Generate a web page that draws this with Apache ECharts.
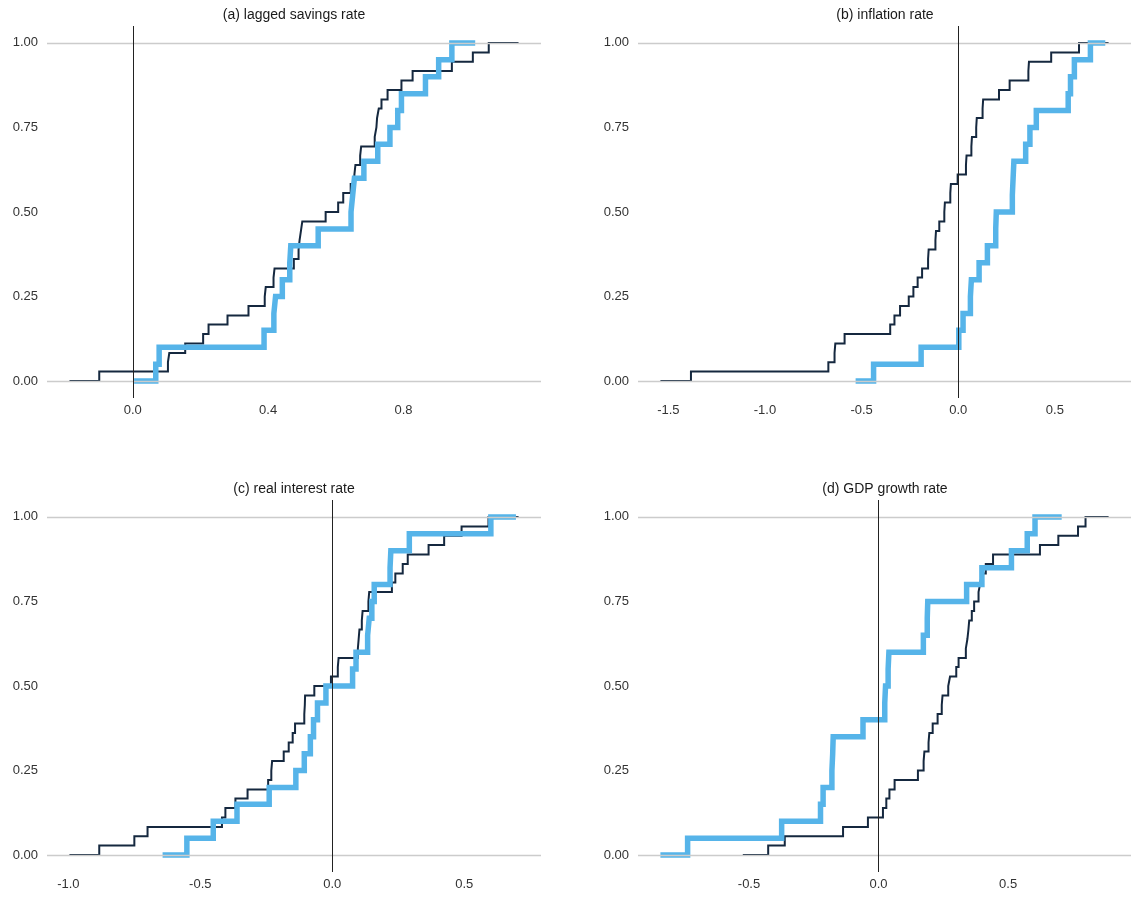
<!DOCTYPE html>
<html>
<head>
<meta charset="utf-8">
<script src="https://cdn.jsdelivr.net/npm/echarts@6/dist/echarts.min.js"></script>
<style>
html,body{margin:0;padding:0;background:#fff;}
#chart{width:1131px;height:900px;}
</style>
</head>
<body>
<div id="chart"></div>
<script>
// ---- Data (step jumps: x position, ECDF level after the jump) ----
const panelTitles = ['(a) lagged savings rate', '(b) inflation rate', '(c) real interest rate', '(d) GDP growth rate'];
const yTickValues = [0, 0.25, 0.5, 0.75, 1];
const xTicksA = [0.0, 0.4, 0.8];
const xTicksB = [-1.5, -1.0, -0.5, 0.0, 0.5];
const xTicksC = [-1.0, -0.5, 0.0, 0.5];
const xTicksD = [-0.5, 0.0, 0.5];

// (a) lagged savings rate
const savingsDarkX = [-0.187,-0.099,0.104,0.108,0.155,0.208,0.224,0.280,0.342,0.390,0.393,0.416,0.419,0.476,0.490,0.493,0.497,0.501,0.570,0.607,0.622,0.644,0.655,0.658,0.672,0.675,0.715,0.720,0.722,0.727,0.735,0.753,0.794,0.827,0.943,1.005,1.052,1.140];
const savingsDarkY = [0,0.028,0.056,0.083,0.111,0.139,0.167,0.194,0.222,0.250,0.278,0.306,0.333,0.361,0.389,0.417,0.444,0.472,0.500,0.528,0.556,0.583,0.611,0.639,0.667,0.694,0.722,0.750,0.778,0.806,0.833,0.861,0.889,0.917,0.944,0.972,1,1];
const savingsBlueX = [0.004,0.068,0.078,0.388,0.417,0.422,0.442,0.464,0.467,0.548,0.645,0.650,0.655,0.683,0.724,0.760,0.783,0.794,0.865,0.904,0.943,1.012];
const savingsBlueY = [0,0.05,0.10,0.15,0.20,0.25,0.30,0.35,0.40,0.45,0.50,0.55,0.60,0.65,0.70,0.75,0.80,0.85,0.90,0.95,1,1];

// (b) inflation rate
const inflationDarkX = [-1.541,-1.383,-0.672,-0.640,-0.636,-0.588,-0.352,-0.330,-0.301,-0.256,-0.232,-0.210,-0.187,-0.156,-0.153,-0.118,-0.115,-0.098,-0.072,-0.069,-0.041,-0.038,-0.003,0.040,0.043,0.068,0.071,0.093,0.096,0.126,0.129,0.211,0.266,0.363,0.366,0.481,0.625,0.778];
const inflationDarkY = [0,0.028,0.056,0.083,0.111,0.139,0.167,0.194,0.222,0.250,0.278,0.306,0.333,0.361,0.389,0.417,0.444,0.472,0.500,0.528,0.556,0.583,0.611,0.639,0.667,0.694,0.722,0.750,0.778,0.806,0.833,0.861,0.889,0.917,0.944,0.972,1,1];
const inflationBlueX = [-0.531,-0.438,-0.192,0.003,0.025,0.063,0.068,0.108,0.151,0.194,0.197,0.280,0.284,0.288,0.349,0.371,0.404,0.569,0.581,0.601,0.684,0.761];
const inflationBlueY = [0,0.05,0.10,0.15,0.20,0.25,0.30,0.35,0.40,0.45,0.50,0.55,0.60,0.65,0.70,0.75,0.80,0.85,0.90,0.95,1,1];

// (c) real interest rate
const interestDarkX = [-0.996,-0.883,-0.750,-0.700,-0.418,-0.405,-0.367,-0.321,-0.243,-0.231,-0.228,-0.184,-0.165,-0.150,-0.141,-0.106,-0.104,-0.103,-0.068,-0.005,0.021,0.024,0.097,0.100,0.103,0.112,0.115,0.137,0.140,0.226,0.239,0.267,0.286,0.365,0.424,0.490,0.592,0.706];
const interestDarkY = [0,0.028,0.056,0.083,0.111,0.139,0.167,0.194,0.222,0.250,0.278,0.306,0.333,0.361,0.389,0.417,0.444,0.472,0.500,0.528,0.556,0.583,0.611,0.639,0.667,0.694,0.722,0.750,0.778,0.806,0.833,0.861,0.889,0.917,0.944,0.972,1,1];
const interestBlueX = [-0.643,-0.551,-0.451,-0.361,-0.239,-0.138,-0.106,-0.083,-0.071,-0.056,-0.024,0.077,0.090,0.134,0.140,0.150,0.159,0.219,0.222,0.292,0.601,0.696];
const interestBlueY = [0,0.05,0.10,0.15,0.20,0.25,0.30,0.35,0.40,0.45,0.50,0.55,0.60,0.65,0.70,0.75,0.80,0.85,0.90,0.95,1,1];

// (d) GDP growth rate
const gdpDarkX = [-0.524,-0.426,-0.362,-0.137,-0.041,0.017,0.030,0.042,0.062,0.152,0.174,0.177,0.193,0.196,0.209,0.228,0.244,0.247,0.269,0.276,0.300,0.309,0.337,0.343,0.347,0.350,0.360,0.369,0.386,0.393,0.399,0.414,0.442,0.623,0.694,0.770,0.799,0.888];
const gdpDarkY = [0,0.028,0.056,0.083,0.111,0.139,0.167,0.194,0.222,0.250,0.278,0.306,0.333,0.361,0.389,0.417,0.444,0.472,0.500,0.528,0.556,0.583,0.611,0.639,0.667,0.694,0.722,0.750,0.778,0.806,0.833,0.861,0.889,0.917,0.944,0.972,1,1];
const gdpBlueX = [-0.842,-0.737,-0.374,-0.224,-0.214,-0.180,-0.177,-0.175,-0.060,0.024,0.027,0.037,0.040,0.173,0.188,0.190,0.340,0.399,0.513,0.574,0.604,0.707];
const gdpBlueY = [0,0.05,0.10,0.15,0.20,0.25,0.30,0.35,0.40,0.45,0.50,0.55,0.60,0.65,0.70,0.75,0.80,0.85,0.90,0.95,1,1];

// ---- Layout / styling ----
const FONT = '"Liberation Sans", Arial, sans-serif';
const DARK = '#15283f';
const BLUE = '#56B4E9';
const panels = [
  {title: panelTitles[0], ticks: xTicksA, min: -0.2534, max: 1.2064, dx: savingsDarkX, dy: savingsDarkY, bx: savingsBlueX, by: savingsBlueY, left: 47, top: 26},
  {title: panelTitles[1], ticks: xTicksB, min: -1.657, max: 0.894, dx: inflationDarkX, dy: inflationDarkY, bx: inflationBlueX, by: inflationBlueY, left: 638, top: 26},
  {title: panelTitles[2], ticks: xTicksC, min: -1.081, max: 0.791, dx: interestDarkX, dy: interestDarkY, bx: interestBlueX, by: interestBlueY, left: 47, top: 500},
  {title: panelTitles[3], ticks: xTicksD, min: -0.9285, max: 0.9745, dx: gdpDarkX, dy: gdpDarkY, bx: gdpBlueX, by: gdpBlueY, left: 638, top: 500}
];
const W = 494, H = 372;

const zip = (xs, ys) => xs.map((x, i) => [x, ys[i]]);

const grid = [], xAxis = [], yAxis = [], series = [], title = [];
panels.forEach((p, i) => {
  grid.push({left: p.left, top: p.top, width: W, height: H, containLabel: false});
  title.push({
    text: p.title, left: p.left + W / 2, top: p.top - 18, textAlign: 'center', padding: 0,
    textStyle: {fontFamily: FONT, fontSize: 14, fontWeight: 'normal', color: '#1a1a1a'}
  });
  xAxis.push({
    gridIndex: i, type: 'value', min: p.min, max: p.max,
    axisLine: {show: false}, axisTick: {show: false}, splitLine: {show: false},
    axisLabel: {customValues: p.ticks, formatter: v => v.toFixed(1), margin: 6,
      fontFamily: FONT, fontSize: 13, color: '#333'}
  });
  yAxis.push({
    gridIndex: i, type: 'value', min: -0.05, max: 1.05,
    axisLine: {show: false}, axisTick: {show: false}, splitLine: {show: false},
    axisLabel: {customValues: yTickValues, formatter: v => v.toFixed(2), margin: 9,
      fontFamily: FONT, fontSize: 13, color: '#333'}
  });
  series.push({
    type: 'line', xAxisIndex: i, yAxisIndex: i, data: [[0, 0]], symbol: 'none', showSymbol: false,
    lineStyle: {opacity: 0}, silent: true, z: 1,
    markLine: {
      silent: true, symbol: ['none', 'none'], label: {show: false}, animation: false,
      data: [
        {yAxis: 0, lineStyle: {color: '#cccccc', width: 1.3, type: 'solid'}},
        {yAxis: 1, lineStyle: {color: '#cccccc', width: 1.3, type: 'solid'}},
        {xAxis: 0, lineStyle: {color: '#222222', width: 1, type: 'solid'}}
      ]
    }
  });
  series.push({
    type: 'line', xAxisIndex: i, yAxisIndex: i, step: 'end', data: zip(p.dx, p.dy),
    symbol: 'none', showSymbol: false, silent: true, z: 2,
    lineStyle: {color: DARK, width: 2, cap: 'butt', join: 'miter'}
  });
  series.push({
    type: 'line', xAxisIndex: i, yAxisIndex: i, step: 'end', data: zip(p.bx, p.by),
    symbol: 'none', showSymbol: false, silent: true, z: 3,
    lineStyle: {color: BLUE, width: 5.5, cap: 'butt', join: 'miter'}
  });
});

const chart = echarts.init(document.getElementById('chart'), null, {renderer: 'canvas'});
chart.setOption({animation: false, backgroundColor: '#ffffff', title, grid, xAxis, yAxis, series});
</script>
</body>
</html>
